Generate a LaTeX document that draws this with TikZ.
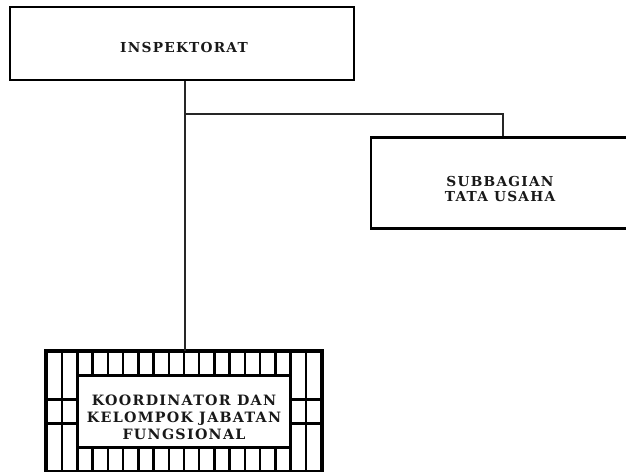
\documentclass[tikz,border=0pt]{standalone}
\usepackage{fontspec}
\newfontfamily\orgfont[LetterSpace=9]{DejaVu Serif}
\begin{document}
\begin{tikzpicture}[x=0.75pt,y=-0.75pt,
  unitbox/.style={draw=black,line width=2pt,fill=white,inner sep=0pt},
  unitname/.style={font=\orgfont\bfseries\fontsize{10.3}{11}\selectfont,text=black!90,align=center,inner sep=0pt},
  link/.style={draw=black!85,line width=1.1pt},
  gridline/.style={draw=black,line width=1.9pt}]
\useasboundingbox (0,0) rectangle (626,472);
\begin{scope}
\clip (0,0) rectangle (626,472);
% top unit
\node[unitbox,minimum width=344*0.75pt,minimum height=73*0.75pt] (insp) at (182,43.5) {};
\node[unitname] (inspname) at (184,47.5) {INSPEKTORAT};
% staff unit (runs past the right margin)
\node[unitbox,minimum width=264*0.75pt,minimum height=91*0.75pt] (subbag) at (503,183) {};
\node[unitname] (subbagname) at (500,189) {SUBBAGIAN\\TATA USAHA};
% functional group: gridded frame with a plain inner panel
\node[draw=black,line width=2pt,inner sep=0pt,minimum width=274*0.75pt,minimum height=119*0.75pt] (fung) at (184,411.5) {};
\foreach \i in {1,...,17}{
  \draw[gridline] (47+\i*15.222,352) -- (47+\i*15.222,375.8);
  \draw[gridline] (47+\i*15.222,447.2) -- (47+\i*15.222,471);
}
\foreach \i in {1,17}{
  \draw[gridline] (47+\i*15.222,375.8) -- (47+\i*15.222,447.2);
}
\foreach \j in {1,2}{
  \draw[gridline] (47,375.8+\j*23.8) -- (77.4,375.8+\j*23.8);
  \draw[gridline] (290.6,375.8+\j*23.8) -- (321,375.8+\j*23.8);
}
\node[unitbox,minimum width=213.2*0.75pt,minimum height=71.4*0.75pt] (fungtext) at (184,411.5) {};
\node[unitname,font=\orgfont\bfseries\fontsize{10.7}{12.8}\selectfont] (fungname) at (184,417) {KOORDINATOR DAN\\KELOMPOK JABATAN\\FUNGSIONAL};
\draw[line width=2.2pt] (fung.north west) rectangle (fung.south east);
% connectors
\coordinate (j) at (185,114);
\draw[link] (insp.south -| j) -- (fung.north -| j);
\draw[link] (j) -- (j -| subbag.north) -- (subbag.north);
\end{scope}
\end{tikzpicture}
\end{document}
